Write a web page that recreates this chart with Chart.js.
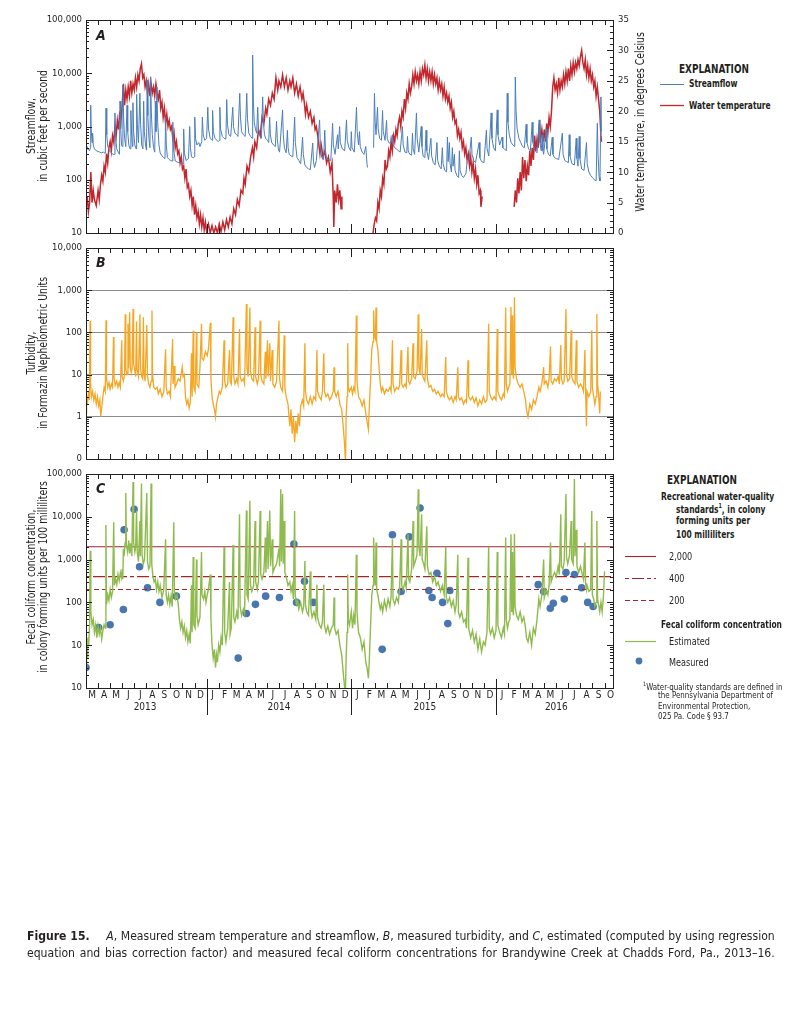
<!DOCTYPE html>
<html><head><meta charset="utf-8">
<script src="https://cdn.jsdelivr.net/npm/chart.js@4"></script>
<style>
body{margin:0;background:#fff;}
#wrap{position:relative;width:803px;height:1023px;overflow:hidden;background:#fff;font-family:"Liberation Sans Narrow","DejaVu Sans Condensed","Arial Narrow",sans-serif;color:#231f20;}
canvas{position:absolute;left:0;}
.t{position:absolute;white-space:nowrap;line-height:1;transform-origin:0 50%;}
.b{font-weight:bold;}
.sb{transform:scaleX(0.76);}
.sr{transform:scaleX(0.82);}
.sf{transform:scaleX(0.93);}
.rot{position:absolute;transform:rotate(-90deg) scaleX(0.9);transform-origin:50% 50%;text-align:center;white-space:nowrap;}
.cap{position:absolute;left:27px;width:804px;font-size:13px;line-height:1;text-align:justify;text-align-last:justify;white-space:nowrap;transform:scaleX(0.93);transform-origin:0 0;}
</style></head>
<body><div id="wrap">
<canvas id="cA" width="660" height="245" style="top:0px"></canvas>
<canvas id="cB" width="660" height="233" style="top:236px"></canvas>
<canvas id="cC" width="660" height="270" style="top:462px"></canvas>

<div class="t b" style="left:96px;top:28px;font-size:14px;font-style:italic;">A</div>
<div class="t b" style="left:96px;top:255px;font-size:14px;font-style:italic;">B</div>
<div class="t b" style="left:96px;top:481px;font-size:14px;font-style:italic;">C</div>

<div class="rot" style="left:-33px;top:114px;width:140px;height:24px;font-size:11.5px;line-height:12px;">Streamflow,<br>in cubic feet per second</div>
<div class="rot" style="left:-63px;top:341px;width:200px;height:24px;font-size:11.5px;line-height:12px;">Turbidity,<br>in Formazin Nephelometric Units</div>
<div class="rot" style="left:-83px;top:565px;width:240px;height:24px;font-size:11.5px;line-height:12px;">Fecal coliform concentration,<br>in colony forming units per 100 milliliters</div>
<div class="rot" style="left:540px;top:116px;width:200px;height:12px;font-size:11.5px;line-height:12px;">Water temperature, in degrees Celsius</div>

<div class="t b sb" style="left:679px;top:61.5px;font-size:13px;">EXPLANATION</div>
<div class="t b sb" style="left:689px;top:77.5px;font-size:11px;">Streamflow</div>
<div class="t b sb" style="left:689px;top:99.5px;font-size:11px;">Water temperature</div>

<div class="t b sb" style="left:667px;top:473px;font-size:13px;">EXPLANATION</div>
<div class="t b sb" style="left:661px;top:490.5px;font-size:11px;">Recreational water-quality</div>
<div class="t b sb" style="left:676px;top:503px;font-size:11px;">standards<sup style="font-size:7px;">1</sup>, in colony</div>
<div class="t b sb" style="left:676px;top:515px;font-size:11px;">forming units per</div>
<div class="t b sb" style="left:676px;top:528.5px;font-size:11px;">100 milliliters</div>
<div class="t sr" style="left:669px;top:550.5px;font-size:11px;">2,000</div>
<div class="t sr" style="left:669px;top:572.5px;font-size:11px;">400</div>
<div class="t sr" style="left:669px;top:594.5px;font-size:11px;">200</div>
<div class="t b sb" style="left:661px;top:618.5px;font-size:11px;">Fecal coliform concentration</div>
<div class="t sr" style="left:669px;top:635.5px;font-size:11px;">Estimated</div>
<div class="t sr" style="left:669px;top:656.5px;font-size:11px;">Measured</div>
<div class="t sf" style="left:643px;top:680.5px;font-size:8.5px;"><sup style="font-size:6px;">1</sup>Water-quality standards are defined in</div>
<div class="t sf" style="left:658px;top:691px;font-size:8.5px;">the Pennsylvania Department of</div>
<div class="t sf" style="left:658px;top:702px;font-size:8.5px;">Environmental Protection,</div>
<div class="t sf" style="left:658px;top:712px;font-size:8.5px;">025 Pa. Code § 93.7</div>

<svg style="position:absolute;left:0;top:0;" width="803" height="1023">
<line x1="660" y1="84.5" x2="684" y2="84.5" stroke="#4a7ebb" stroke-width="1"/>
<line x1="660" y1="105.5" x2="684" y2="105.5" stroke="#c1272d" stroke-width="1.3"/>
<line x1="625" y1="556.5" x2="656" y2="556.5" stroke="#a3262a" stroke-width="1.1"/>
<line x1="625" y1="578.5" x2="656" y2="578.5" stroke="#a3262a" stroke-width="1.1" stroke-dasharray="4 3 12 3"/>
<line x1="625" y1="600.5" x2="656" y2="600.5" stroke="#a3262a" stroke-width="1.1" stroke-dasharray="5 3"/>
<line x1="625" y1="641.5" x2="656" y2="641.5" stroke="#8fbb4e" stroke-width="1.2"/>
<circle cx="639" cy="661" r="3.4" fill="#4a76b0"/>
</svg>

<div class="cap" style="top:929px;"><b>Figure 15.</b><span style="display:inline-block;width:14px;"></span> <i>A</i>, Measured stream temperature and streamflow, <i>B</i>, measured turbidity, and <i>C</i>, estimated (computed by using regression</div>
<div class="cap" style="top:946px;">equation and bias correction factor) and measured fecal coliform concentrations for Brandywine Creek at Chadds Ford, Pa., 2013–16.</div>
</div>

<script>
// ---------------- DATA (x = months since 1 March 2013) ----------------
const monthLabels = ["M","A","M","J","J","A","S","O","N","D",
  "J","F","M","A","M","J","J","A","S","O","N","D",
  "J","F","M","A","M","J","J","A","S","O","N","D",
  "J","F","M","A","M","J","J","A","S","O"];
const yearLabels = ["2013","2014","2015","2016"];
const yearLabelPos = [4.9, 16.0, 28.1, 39.0];
const yearStarts = [10, 22, 34];

const flowTicks = [10,100,1000,10000,100000];
const flowTickLabels = ["10","100","1,000","10,000","100,000"];
const tempTicks = [0,5,10,15,20,25,30,35];
const turbTicks = [0.1,1,10,100,1000,10000];
const turbTickLabels = ["0","1","10","100","1,000","10,000"];
const fecalTicks = [1,10,100,1000,10000,100000];
const fecalTickLabels = ["10","10","100","1,000","10,000","100,000"];
const standards = [2000, 400, 200];

const streamflow = [
[0,360],[0.08,420],[0.15,380],[0.3,350],[0.36,400],[0.39,2500],[0.43,900],[0.5,500],[0.55,750],[0.6,450],[0.7,380],[0.85,350],[1.0,340],
[1.15,330],[1.3,320],[1.45,330],[1.6,310],[1.66,2200],[1.72,700],[1.8,420],[1.95,350],
[2.1,320],[2.25,300],[2.35,300],[2.4,1800],[2.46,600],[2.55,380],[2.7,320],[2.78,300],[2.82,3000],[2.88,900],[2.95,450],
[3.0,420],[3.06,6000],[3.12,1400],[3.2,600],[3.3,420],[3.4,2500],[3.46,800],[3.55,450],[3.65,380],[3.72,2000],[3.78,700],[3.85,420],[3.89,2800],[3.95,800],
[4.05,450],[4.15,380],[4.2,4000],[4.26,1100],[4.35,500],[4.47,4200],[4.53,1100],[4.62,450],[4.72,380],[4.78,3000],[4.84,800],[4.95,420],
[5.02,360],[5.07,7500],[5.13,1600],[5.22,600],[5.3,400],[5.36,8600],[5.42,1800],[5.5,700],[5.6,400],[5.7,330],[5.75,3000],[5.8,800],[5.88,5500],[5.94,1200],
[6.05,450],[6.15,320],[6.3,280],[6.45,260],[6.55,250],[6.6,1500],[6.66,450],[6.75,260],[6.9,240],[7.0,230],
[7.15,225],[7.2,1200],[7.26,380],[7.4,225],[7.55,215],[7.7,210],[7.85,205],[7.95,205],
[8.05,200],[8.1,900],[8.16,320],[8.3,230],[8.5,250],[8.6,1000],[8.66,400],[8.75,270],[8.9,260],
[9.0,270],[9.02,1500],[9.08,600],[9.2,450],[9.35,500],[9.45,420],[9.6,520],[9.65,1500],[9.72,700],[9.85,550],
[10.0,600],[10.1,2300],[10.16,900],[10.3,600],[10.45,550],[10.5,2000],[10.56,800],[10.7,600],[10.85,550],[10.95,520],
[11.05,550],[11.1,2300],[11.16,900],[11.3,650],[11.45,600],[11.6,580],[11.67,3200],[11.73,1100],[11.85,700],
[12.0,650],[12.17,2300],[12.23,1000],[12.35,750],[12.5,700],[12.6,650],[12.75,4200],[12.81,1500],[12.9,800],
[13.05,700],[13.2,650],[13.33,4200],[13.39,1400],[13.5,750],[13.65,650],[13.78,600],[13.82,22000],[13.88,3000],[13.95,1200],
[14.05,900],[14.15,750],[14.24,2300],[14.3,900],[14.45,650],[14.55,600],[14.65,3600],[14.71,1200],[14.8,700],[14.9,600],
[15.05,550],[15.15,500],[15.23,1500],[15.29,700],[15.4,500],[15.55,450],[15.7,420],[15.8,1250],[15.86,600],[15.95,380],
[16.05,330],[16.3,2050],[16.36,700],[16.45,400],[16.6,320],[16.7,850],[16.76,400],[16.85,300],[17.0,280],
[17.15,270],[17.3,1500],[17.36,500],[17.5,260],[17.65,230],[17.8,200],[17.96,630],[18.02,300],
[18.15,190],[18.3,170],[18.45,160],[18.6,155],[18.8,490],[18.86,220],[18.95,170],
[19.1,230],[19.37,1330],[19.43,450],[19.55,260],[19.7,240],[19.8,850],[19.86,350],[19.95,240],
[20.1,240],[20.3,230],[20.45,1150],[20.51,450],[20.65,300],[20.86,700],[20.92,380],
[21.03,1000],[21.09,500],[21.25,380],[21.45,350],[21.6,1330],[21.66,550],[21.8,400],[21.95,350],
[22.0,800],[22.06,400],[22.25,330],[22.43,2300],[22.49,800],[22.6,450],[22.68,800],[22.74,420],[22.9,330],
[23.05,300],[23.2,420],[23.3,200],[23.34,170],[23.45,null],[23.85,400],[23.92,4200],[23.98,1200],
[24.05,700],[24.17,2300],[24.23,900],[24.35,600],[24.5,550],[24.59,2000],[24.65,800],[24.8,550],[24.92,1300],[24.98,600],
[25.1,500],[25.25,480],[25.41,700],[25.47,450],[25.6,400],[25.75,380],[25.9,350],
[26.05,330],[26.24,1000],[26.3,450],[26.45,330],[26.6,320],[26.66,650],[26.72,350],[26.85,300],
[27.0,290],[27.07,750],[27.13,380],[27.25,300],[27.4,1800],[27.46,600],[27.6,330],[27.8,1000],[27.86,420],[27.95,280],
[28.1,260],[28.2,850],[28.26,350],[28.4,240],[28.6,600],[28.66,280],[28.8,210],[28.95,190],
[29.1,500],[29.16,230],[29.3,180],[29.45,160],[29.55,400],[29.61,200],[29.75,150],[29.9,140],[29.97,630],[30.03,220],
[30.13,500],[30.19,200],[30.3,140],[30.38,400],[30.44,180],[30.55,300],[30.6,150],[30.75,120],[30.9,110],[30.96,350],[31.02,150],
[31.15,120],[31.3,110],[31.5,130],[31.6,210],[31.75,220],[31.95,630],[32.01,300],
[32.15,230],[32.3,210],[32.6,500],[32.66,260],[32.8,220],[33.0,210],
[33.2,850],[33.26,380],[33.4,280],[33.6,1800],[33.66,600],[33.8,400],[33.95,350],
[34.1,2050],[34.16,700],[34.3,450],[34.5,630],[34.56,400],[34.7,380],[34.85,350],[34.93,4200],[34.99,1200],
[35.1,700],[35.25,500],[35.4,450],[35.55,420],[35.6,8500],[35.66,2000],[35.75,900],[35.9,600],
[36.05,500],[36.2,420],[36.35,400],[36.5,1100],[36.56,500],[36.7,380],[36.85,350],[37.0,1200],[37.06,500],
[37.2,360],[37.4,320],[37.58,1330],[37.64,500],[37.75,350],[37.83,700],[37.89,350],[37.95,300],
[38.16,900],[38.22,380],[38.35,300],[38.5,280],[38.66,630],[38.72,300],[38.85,260],
[39.0,250],[39.2,240],[39.5,750],[39.56,300],[39.7,230],[39.85,220],[40.0,210],
[40.07,700],[40.13,280],[40.3,200],[40.5,190],[40.65,600],[40.71,250],[40.8,180],[40.9,650],[40.96,250],
[41.1,160],[41.3,150],[41.5,500],[41.56,200],[41.7,140],[41.85,120],[42.0,110],
[42.15,100],[42.3,95],[42.4,1150],[42.46,300],[42.55,110],[42.62,95],[42.7,3600],[42.74,800]
];

const waterTemp = [
[0,4],[0.1,6],[0.2,3.5],[0.3,5],[0.4,10],[0.5,5],[0.6,7],[0.7,5.5],[0.85,4.5],[1.0,7],[1.1,5.5],[1.2,8],[1.3,9.5],[1.4,8.5],[1.5,11],[1.6,10],[1.7,13],[1.8,11.5],[1.9,14],
[2.0,15],[2.1,13.5],[2.2,16],[2.3,15],[2.4,17.5],[2.5,16],[2.6,18.5],[2.7,17],[2.8,20],[2.9,18.5],[3.0,21],[3.1,24.5],[3.2,21],[3.3,23.5],[3.4,22],[3.5,24],[3.6,22.5],[3.7,25],[3.8,23],[3.9,24.5],
[4.0,23.5],[4.1,25.5],[4.2,24],[4.3,26],[4.4,25],[4.5,27],[4.6,27.8],[4.7,25.5],[4.8,26],[4.9,24],[5.0,25],[5.1,23],[5.2,24.5],[5.3,22.5],[5.4,24.5],[5.5,23],[5.6,24],[5.7,22.5],[5.8,24.5],[5.9,23],
[6.0,22],[6.1,23.5],[6.2,20.5],[6.3,21.5],[6.4,19],[6.5,20.5],[6.6,18],[6.7,19.5],[6.8,17.5],[6.9,18.5],[7.0,17],[7.1,17.5],[7.2,15.5],[7.3,16.5],[7.4,14],[7.5,15],[7.6,13],[7.7,13.5],[7.8,11.5],[7.9,12.5],
[8.0,10.5],[8.1,11],[8.2,9],[8.3,10.5],[8.4,7.5],[8.5,8],[8.6,6],[8.7,7],[8.8,4.5],[8.9,6],[9.0,3],[9.1,4.5],[9.2,2.5],[9.3,3.5],[9.4,1.5],[9.5,3],[9.6,1],[9.7,2.5],[9.8,0.5],[9.9,1.8],
[10.0,0.3],[10.15,1.5],[10.3,0],[10.45,1.2],[10.6,0],[10.75,1],[10.9,0],[11.05,1.5],[11.2,0.2],[11.35,1.8],[11.5,0.5],[11.65,2.2],[11.8,1],[11.95,2.6],
[12.1,1.5],[12.25,4],[12.4,3],[12.55,5.5],[12.7,4.5],[12.85,7],[13.0,6.5],[13.1,9],[13.2,8],[13.35,11],[13.5,10],[13.65,12.5],[13.8,14],[13.9,12.5],
[14.0,15],[14.15,14],[14.3,17],[14.45,16],[14.6,19],[14.75,18],[14.9,20.5],[15.0,19.5],[15.15,22],[15.3,21],[15.45,23],[15.6,22],[15.75,25.5],[15.9,23.5],
[16.0,25],[16.15,24],[16.3,26],[16.45,24],[16.6,25.5],[16.75,23.5],[16.9,25],[17.0,24],[17.15,25.5],[17.3,23],[17.45,24.5],[17.6,22.5],[17.75,24],[17.9,22],
[18.0,23],[18.1,21.5],[18.2,19.5],[18.3,21],[18.45,19],[18.6,20],[18.75,18],[18.9,19],[19.0,17],[19.1,17.5],[19.25,15.5],[19.4,13],[19.5,14.5],[19.65,12.5],[19.8,13.5],[19.95,11.5],
[20.1,12.5],[20.25,10],[20.4,11.5],[20.5,6],[20.55,1],[20.62,7],[20.75,5],[20.85,8],[20.95,5.5],[21.05,7],[21.15,4],[21.22,6],[21.3,null],
[23.8,0],[23.9,1.5],[24.0,2.5],[24.1,2],[24.2,5],[24.3,4],[24.4,7],[24.5,6],[24.6,9],[24.7,8],[24.8,12],[24.9,10.5],[25.0,11],[25.1,13.5],[25.2,12.5],[25.3,15],[25.4,13.5],[25.5,16],[25.6,15],[25.7,17],[25.8,16],[25.9,18],
[26.0,19],[26.1,17.5],[26.2,20],[26.3,19],[26.4,22],[26.5,20.5],[26.6,23],[26.7,22],[26.8,24.5],[26.9,23],[27.0,24],[27.1,26],[27.2,24.5],[27.3,26.5],[27.4,25],[27.5,26],[27.6,24.5],[27.7,26.5],[27.8,25],[27.9,27],
[28.0,26],[28.1,27.6],[28.2,25.5],[28.3,27],[28.4,25],[28.5,26.5],[28.6,25],[28.7,26.5],[28.8,24.5],[28.9,26],[29.0,24.5],[29.1,25.5],[29.2,23.5],[29.3,25],[29.4,23.5],[29.5,24.5],[29.6,22.5],[29.7,24],[29.8,22],[29.9,23],
[30.0,21.5],[30.1,22.5],[30.2,20.5],[30.3,21.5],[30.4,19],[30.5,20],[30.6,18],[30.7,18.5],[30.8,16],[30.9,17],[31.0,15.5],[31.1,16.5],[31.2,14],[31.3,15],[31.4,13],[31.5,14],[31.6,12],[31.7,13],[31.8,11],[31.9,12.5],
[32.0,10],[32.1,11.5],[32.2,9],[32.3,10.5],[32.4,8],[32.5,9.5],[32.6,6.5],[32.7,7],[32.75,4.3],[32.85,6],[32.9,null],
[35.5,4.3],[35.6,7],[35.7,5],[35.8,9],[35.9,6.5],[36.0,10],[36.1,7],[36.2,12.5],[36.3,9],[36.4,12],[36.5,8.5],[36.6,11],[36.7,9.5],[36.8,13.5],[36.9,11],
[37.0,14],[37.1,12],[37.2,16],[37.3,13.5],[37.4,15.5],[37.5,14],[37.6,18],[37.7,15.5],[37.8,17],[37.9,15],[38.0,17],[38.1,15],[38.2,18],[38.3,16.5],[38.4,19],[38.5,17.5],[38.6,20],[38.7,24],[38.8,25.5],[38.9,23.5],
[39.0,24.5],[39.1,23],[39.2,25.5],[39.3,23.5],[39.4,25],[39.5,24],[39.6,26],[39.7,24.5],[39.8,26.5],[39.9,25],[40.0,27],[40.1,25],[40.2,27.5],[40.3,26],[40.4,28],[40.5,26.5],[40.6,28],[40.7,27],[40.8,28.5],[40.9,27.5],
[41.0,29],[41.1,30],[41.2,28],[41.3,27],[41.4,28.5],[41.5,26],[41.6,27.5],[41.7,25.5],[41.8,27],[41.9,25],[42.0,26],[42.1,24],[42.2,25],[42.3,22.5],[42.4,24],[42.5,22],[42.6,20],[42.7,16],[42.75,15]
];

const turbidity = [
[0.0,1.2],[0.05,3],[0.12,2],[0.2,4],[0.28,2.5],[0.34,190],[0.38,6],[0.45,3],[0.55,4],[0.65,2.5],[0.75,3.5],[0.85,2],[0.95,3],[1.05,1.8],[1.15,2.5],[1.22,1],[1.3,1.6],[1.4,3],[1.5,5],[1.6,4],[1.66,195],[1.7,8],[1.8,5],[1.9,6.5],
[2.0,4.5],[2.1,6],[2.2,5],[2.28,78],[2.32,9],[2.42,5.5],[2.55,7],[2.65,5],[2.75,6.5],[2.85,5],[2.96,65],[3.0,9],[3.1,7],[3.2,10],[3.25,270],[3.3,14],[3.4,10],[3.48,160],[3.53,14],[3.62,300],[3.67,16],[3.75,11],[3.82,14],[3.9,360],[3.95,18],
[4.05,12],[4.12,9],[4.19,180],[4.24,13],[4.35,9],[4.47,270],[4.52,14],[4.62,9],[4.7,8],[4.76,230],[4.81,11],[4.9,7],[5.04,150],[5.1,9],[5.2,6],[5.3,5],[5.4,7],[5.47,330],[5.52,10],[5.62,5],[5.75,4.5],[5.9,5],
[6.0,3.5],[6.15,4.5],[6.3,3],[6.45,4],[6.6,40],[6.65,5],[6.75,3.5],[6.9,4],[7.0,3],[7.18,70],[7.22,6],[7.32,16],[7.38,5],[7.5,6],[7.65,8],[7.8,7],[7.98,15],[8.05,9],[8.15,10],[8.25,3],[8.35,2],[8.45,2.5],[8.55,1.6],[8.65,2.2],[8.75,32],[8.8,3],[8.89,110],[8.94,5],
[9.05,4],[9.16,100],[9.2,6],[9.35,5],[9.45,15],[9.58,160],[9.62,25],[9.75,22],[9.9,35],[10.05,28],[10.15,40],[10.31,170],[10.36,8],[10.45,3],[10.55,2],[10.65,1.5],[10.74,1],[10.82,2],[10.95,3],
[11.05,4],[11.15,3.5],[11.3,5],[11.45,65],[11.5,7],[11.6,5],[11.75,6],[11.9,38],[11.95,7],[12.05,6],[12.2,230],[12.25,9],[12.35,6],[12.5,8],[12.6,6],[12.73,120],[12.78,9],[12.9,7],
[13.05,8],[13.15,6],[13.3,470],[13.35,14],[13.45,9],[13.59,390],[13.64,12],[13.75,8],[13.9,7],[14.02,133],[14.07,9],[14.2,6],[14.3,8],[14.44,190],[14.49,10],[14.6,7],[14.75,6],[14.87,35],[14.92,8],
[15.05,65],[15.1,9],[15.24,55],[15.3,7],[15.44,38],[15.5,6],[15.65,5],[15.8,7],[16.0,190],[16.05,8],[16.15,5],[16.3,4],[16.44,85],[16.49,5],[16.6,3],[16.75,2],[16.9,0.6],
[17.0,1.5],[17.1,0.4],[17.2,1],[17.3,0.25],[17.4,0.8],[17.5,0.4],[17.6,1.2],[17.7,0.6],[17.8,1.8],[17.95,2.5],[18.05,1.8],[18.15,55],[18.2,4],[18.3,2.5],[18.45,2],[18.6,3],[18.75,2],[18.9,3],
[19.05,2.5],[19.15,38],[19.2,4],[19.35,3],[19.5,2.5],[19.6,4],[19.72,32],[19.77,4],[19.9,3],[20.05,3.5],[20.2,2.5],[20.35,3],[20.5,4],[20.57,15],[20.62,4],[20.75,3],[20.9,4],
[21.05,2],[21.2,1.5],[21.35,0.5],[21.45,0.2],[21.52,0.08],[21.57,1],[21.65,3],[21.7,55],[21.75,5],[21.85,4],[22.0,5],[22.1,3.5],[22.2,5],[22.3,4],[22.42,250],[22.47,7],[22.6,3],[22.75,2.5],[22.9,1.8],
[23.05,2.5],[23.2,1.2],[23.3,0.8],[23.42,0.5],[23.5,2],[23.6,8],[23.7,40],[23.8,60],[23.85,330],[23.92,80],[24.0,70],[24.05,390],[24.1,60],[24.2,40],[24.3,15],[24.4,6],[24.5,4],[24.6,5],[24.75,3.5],[24.9,4.5],
[25.05,4],[25.2,5],[25.3,4],[25.41,65],[25.46,6],[25.6,4],[25.75,5],[25.9,4.5],[26.0,5.5],[26.13,38],[26.18,6],[26.3,5],[26.45,6],[26.55,5],[26.7,45],[26.75,7],[26.85,6],
[27.0,8],[27.12,55],[27.17,9],[27.3,8],[27.45,12],[27.55,270],[27.6,15],[27.7,10],[27.83,120],[27.88,10],[28.0,8],[28.1,7],[28.26,65],[28.31,8],[28.45,5],[28.6,5.5],[28.75,4],[28.9,4.5],
[29.05,3.5],[29.2,4],[29.4,3],[29.55,3.5],[29.7,3],[29.83,26],[29.88,4],[30.0,3],[30.15,2.5],[30.3,3],[30.45,2.2],[30.6,3],[30.7,2.5],[30.83,15],[30.88,3],
[31.0,2.5],[31.15,2.8],[31.3,2],[31.45,2.5],[31.55,2.2],[31.68,22],[31.73,3],[31.9,2.5],[32.05,3],[32.2,2.2],[32.35,2.8],[32.5,1.8],[32.65,2.5],[32.8,2],[32.95,3],
[33.1,2.2],[33.25,2.5],[33.39,160],[33.44,4],[33.55,3],[33.7,2.5],[33.85,3],[34.0,2.5],[34.1,120],[34.15,4],[34.3,3],[34.45,2.5],[34.6,3.5],[34.7,3],[34.8,390],[34.85,6],[34.95,4],
[35.05,5],[35.15,6],[35.24,400],[35.3,10],[35.33,250],[35.38,12],[35.45,8],[35.53,680],[35.58,15],[35.7,8],[35.85,6],[36.0,5],[36.15,6],[36.3,4],[36.45,2.5],[36.52,1.5],[36.65,1],[36.8,2],[36.95,1.5],
[37.1,2.5],[37.25,2],[37.4,3],[37.55,5],[37.65,4],[37.8,6],[37.95,15],[38.0,6],[38.15,7],[38.3,5],[38.4,8],[38.52,46],[38.57,7],[38.7,6],[38.85,8],
[39.0,7],[39.15,9],[39.25,6],[39.37,50],[39.42,8],[39.55,6],[39.65,7],[39.8,360],[39.85,10],[39.95,7],[40.1,8],[40.23,112],[40.28,9],[40.4,7],[40.55,6],[40.66,65],[40.71,7],[40.85,5],
[41.0,6],[41.15,5],[41.25,4],[41.37,38],[41.42,5],[41.5,0.6],[41.55,4],[41.7,3],[41.85,4],[41.94,112],[41.99,5],[42.1,3],[42.2,2],[42.3,3],[42.36,273],[42.42,6],[42.5,3.5],[42.6,1.2],[42.65,4]
];

const fecalEstimated = [
[0.0,3],[0.05,8],[0.1,5],[0.15,15],[0.22,10],[0.3,30],[0.35,1600],[0.4,60],[0.5,30],[0.6,40],[0.7,20],[0.8,30],[0.9,15],[1.0,28],[1.1,18],[1.2,25],[1.3,14],[1.4,22],[1.5,30],[1.6,25],[1.65,6400],[1.7,90],[1.8,150],[1.9,110],
[2.0,200],[2.1,130],[2.2,180],[2.3,7500],[2.35,250],[2.45,350],[2.55,260],[2.65,450],[2.75,320],[2.85,500],[2.95,380],[3.0,600],[3.05,350],[3.1,1800],[3.15,1200],[3.25,2500],[3.3,36000],[3.35,2200],[3.45,1500],[3.55,2800],[3.62,1400],[3.7,2400],[3.8,1200],[3.9,65000],[3.95,2500],
[4.05,1500],[4.12,2000],[4.19,14000],[4.25,1500],[4.35,900],[4.47,8000],[4.5,1200],[4.6,60000],[4.65,1300],[4.75,800],[4.85,1000],[5.04,36000],[5.1,900],[5.2,600],[5.3,700],[5.4,60000],[5.45,800],[5.55,400],[5.65,300],[5.75,350],[5.85,200],[5.95,300],
[6.05,180],[6.15,250],[6.3,130],[6.45,200],[6.6,3000],[6.65,150],[6.75,100],[6.85,150],[6.95,90],[7.05,140],[7.15,80],[7.28,7500],[7.33,180],[7.42,120],[7.55,150],[7.65,90],[7.75,40],[7.85,25],[7.95,35],
[8.05,20],[8.15,28],[8.25,15],[8.35,22],[8.45,12],[8.55,18],[8.65,11],[8.75,250],[8.8,20],[8.89,1150],[8.94,30],[9.05,25],[9.16,1000],[9.2,50],[9.3,30],[9.45,45],[9.58,1500],[9.62,150],[9.75,120],[9.85,180],[9.95,100],
[10.05,150],[10.15,200],[10.31,450],[10.36,40],[10.45,10],[10.55,5],[10.65,8],[10.74,3],[10.82,6],[10.9,4],[11.0,10],[11.1,7],[11.2,15],[11.3,10],[11.45,2000],[11.5,20],[11.6,12],[11.75,25],[11.9,300],[11.95,18],
[12.05,25],[12.2,2200],[12.25,45],[12.35,35],[12.5,60],[12.6,40],[12.73,11500],[12.78,80],[12.9,50],[13.05,70],[13.15,55],[13.3,14000],[13.35,150],[13.45,120],[13.59,23600],[13.64,250],[13.75,180],[13.9,250],
[14.02,8000],[14.07,300],[14.2,200],[14.3,320],[14.44,13700],[14.49,450],[14.6,350],[14.75,500],[14.87,3300],[14.92,500],[15.05,8000],[15.1,600],[15.24,14000],[15.3,700],[15.44,3000],[15.5,500],[15.65,650],[15.8,800],
[16.0,1800],[16.05,700],[16.15,44000],[16.2,900],[16.3,34000],[16.35,800],[16.44,8000],[16.49,500],[16.6,400],[16.75,250],[16.9,300],[17.0,180],[17.1,250],[17.2,120],[17.3,13700],[17.35,150],[17.45,90],[17.55,110],[17.65,70],[17.8,100],[17.95,60],
[18.05,80],[18.15,930],[18.2,90],[18.3,60],[18.45,50],[18.6,530],[18.65,70],[18.75,45],[18.9,60],[19.05,40],[19.15,260],[19.2,45],[19.35,30],[19.5,25],[19.6,35],[19.72,260],[19.77,30],[19.9,20],
[20.05,28],[20.2,18],[20.35,25],[20.5,30],[20.57,130],[20.62,25],[20.75,18],[20.9,22],[21.05,10],[21.2,6],[21.35,2],[21.45,1],[21.52,1],[21.57,5],[21.65,20],[21.7,450],[21.75,40],[21.85,30],
[22.0,60],[22.1,25],[22.2,50],[22.3,30],[22.42,1300],[22.47,60],[22.6,20],[22.75,15],[22.9,8],[23.05,12],[23.2,4],[23.3,3],[23.42,1.7],[23.5,5],[23.6,30],[23.7,150],[23.8,250],[23.85,3300],[23.92,350],
[24.0,250],[24.05,2500],[24.1,200],[24.2,150],[24.3,100],[24.4,70],[24.5,90],[24.6,60],[24.75,110],[24.9,70],[25.05,120],[25.2,80],[25.3,140],[25.41,3000],[25.46,120],[25.6,90],[25.75,130],[25.9,100],
[26.0,200],[26.13,3000],[26.18,250],[26.3,200],[26.45,300],[26.55,220],[26.7,3900],[26.75,350],[26.85,300],[27.0,600],[27.12,8000],[27.17,700],[27.3,900],[27.45,1300],[27.55,44000],[27.6,2000],[27.7,1200],[27.83,11500],[27.88,1000],
[28.0,800],[28.1,600],[28.26,6000],[28.31,700],[28.45,450],[28.6,500],[28.75,300],[28.9,400],[29.05,250],[29.2,300],[29.4,180],[29.55,250],[29.7,150],[29.83,2000],[29.88,130],
[30.0,100],[30.15,130],[30.3,80],[30.45,110],[30.6,60],[30.7,90],[30.83,1300],[30.88,60],[31.0,45],[31.15,60],[31.3,35],[31.45,40],[31.55,25],[31.68,1100],[31.73,25],[31.9,15],
[32.05,22],[32.2,12],[32.35,18],[32.5,8],[32.65,14],[32.8,7],[32.95,12],[33.1,10],[33.25,20],[33.39,2000],[33.44,25],[33.55,18],[33.7,25],[33.85,15],
[34.0,22],[34.1,1500],[34.15,30],[34.3,20],[34.45,15],[34.6,25],[34.7,18],[34.8,3300],[34.85,40],[34.95,25],[35.05,35],[35.15,40],[35.24,3900],[35.3,60],[35.33,1500],[35.38,70],[35.45,50],[35.53,4000],[35.58,80],[35.7,50],[35.85,40],
[36.0,60],[36.15,35],[36.3,45],[36.45,25],[36.52,15],[36.65,12],[36.8,20],[36.95,10],[37.1,25],[37.25,18],[37.4,40],[37.55,120],[37.65,80],[37.8,150],[37.95,1000],
[38.0,130],[38.15,200],[38.3,150],[38.4,250],[38.52,2500],[38.57,300],[38.7,400],[38.85,500],[39.0,400],[39.15,700],[39.25,450],[39.37,11500],[39.42,700],[39.55,600],[39.65,900],[39.8,34000],[39.85,1100],[39.95,800],
[40.1,1300],[40.23,8000],[40.28,1000],[40.4,800],[40.5,76000],[40.55,1200],[40.66,5000],[40.71,700],[40.85,500],[41.0,700],[41.15,450],[41.25,350],[41.37,2500],[41.42,300],[41.5,200],[41.55,250],[41.7,180],[41.85,200],
[41.94,13700],[41.99,150],[42.1,120],[42.2,80],[42.3,100],[42.36,8000],[42.42,120],[42.5,90],[42.6,60],[42.7,100],[42.8,60],[42.9,130],[43.0,530]
];

const fecalMeasured = [
[0.0,3],[1.05,26],[2.0,30],[3.1,68],[3.16,5000],[3.99,15000],[4.44,680],[5.1,220],[6.13,100],[7.49,140],
[12.62,5],[13.3,55],[14.05,90],[14.9,140],[16.04,130],[17.24,2300],[17.46,100],[18.12,310],[18.86,100],
[24.56,8],[25.41,3800],[26.13,180],[26.8,3400],[27.7,16000],[28.43,190],[28.7,130],[29.1,480],[29.57,100],[30.0,32],[30.17,190],
[37.5,260],[37.95,180],[38.5,73],[38.75,95],[39.66,120],[39.8,500],[40.5,450],[41.1,220],[41.6,100],[42.05,80]
];

// ---------------- STYLE / RENDER ----------------
const X_MAX = 43.7;
const FONT = '"Liberation Sans Narrow","DejaVu Sans Condensed","Arial Narrow",sans-serif';
const INK = '#231f20';
Chart.defaults.font.family = FONT;
Chart.defaults.color = INK;
Chart.defaults.animation = false;
Chart.defaults.events = [];

const toXY = a => a.map(([x, y]) => ({x, y}));
const logMinor = (lo, hi) => { const r = []; for (let d = lo; d < hi; d *= 10) for (let k = 2; k <= 9; k++) r.push(d * k); return r; };
const range = (a, b, s) => { const r = []; for (let v = a; v <= b + 1e-9; v += s) r.push(v); return r; };

const frameTicks = {
  id: 'frameTicks',
  afterDatasetsDraw(chart, args, o) {
    const {ctx, chartArea: a, scales} = chart;
    const xs = scales.x;
    ctx.save();
    ctx.strokeStyle = INK;
    ctx.lineWidth = 1;
    ctx.beginPath();
    for (let m = 1; m < X_MAX; m++) {
      const px = Math.round(xs.getPixelForValue(m)) + 0.5;
      const yr = yearStarts.includes(m);
      const len = yr ? 9 : 5;
      ctx.moveTo(px, a.top); ctx.lineTo(px, a.top + len);
      ctx.moveTo(px, a.bottom); ctx.lineTo(px, a.bottom - len);
      if (o.dividers && yr) { ctx.moveTo(px, a.bottom); ctx.lineTo(px, a.bottom + 27); }
    }
    (o.y || []).forEach(sp => {
      const s = scales[sp.scale];
      const draw = (v, len) => {
        const py = Math.round(s.getPixelForValue(v)) + 0.5;
        if (py < a.top + 1 || py > a.bottom - 1) return;
        if (sp.sides.includes('l')) { ctx.moveTo(a.left, py); ctx.lineTo(a.left + len, py); }
        if (sp.sides.includes('r')) { ctx.moveTo(a.right, py); ctx.lineTo(a.right - len, py); }
      };
      sp.major.forEach(v => draw(v, 6));
      sp.minor.forEach(v => draw(v, 3));
    });
    ctx.stroke();
    ctx.strokeRect(Math.round(a.left) + 0.5, Math.round(a.top) + 0.5, Math.round(a.right - a.left), Math.round(a.bottom - a.top));
    ctx.restore();
  }
};

const tickFont = {size: 9.5};
const hiddenX = h => ({type: 'linear', min: 0, max: X_MAX, ticks: {display: false}, grid: {display: false, drawTicks: false}, border: {display: false}, afterFit: s => { s.height = h; }});
const lineDs = (data, color, axis, w) => ({data: toXY(data), yAxisID: axis, borderColor: color, borderWidth: w, pointRadius: 0, tension: 0, spanGaps: false, fill: false});

// Panel A
new Chart(document.getElementById('cA'), {
  type: 'line',
  data: {datasets: [
    lineDs(streamflow, '#4a7ebb', 'y', 1),
    lineDs(waterTemp, '#c1272d', 'yT', 1.5)
  ]},
  options: {
    responsive: false, layout: {padding: {top: 20, left: 0, right: 0, bottom: 0}},
    plugins: {legend: {display: false}, tooltip: {enabled: false},
      frameTicks: {y: [
        {scale: 'y', sides: 'l', major: flowTicks, minor: logMinor(10, 100000)},
        {scale: 'yT', sides: 'r', major: tempTicks, minor: range(0, 35, 1)}
      ]}},
    scales: {
      x: hiddenX(12),
      y: {type: 'logarithmic', position: 'left', min: 10, max: 100000,
        afterBuildTicks: s => { s.ticks = flowTicks.map(v => ({value: v})); },
        ticks: {callback: (v, i) => flowTickLabels[i], font: tickFont, padding: 4, autoSkip: false},
        grid: {display: false, drawTicks: false}, border: {display: false}, afterFit: s => { s.width = 86; }},
      yT: {type: 'linear', position: 'right', min: 0, max: 35,
        afterBuildTicks: s => { s.ticks = tempTicks.map(v => ({value: v})); },
        ticks: {callback: v => String(v), font: tickFont, padding: 5, autoSkip: false},
        grid: {display: false, drawTicks: false}, border: {display: false}, afterFit: s => { s.width = 47; }}
    }
  },
  plugins: [frameTicks]
});

// Panel B
new Chart(document.getElementById('cB'), {
  type: 'line',
  data: {datasets: [lineDs(turbidity, '#f5a623', 'y', 1.3)]},
  options: {
    responsive: false, layout: {padding: {top: 12, left: 0, right: 47, bottom: 0}},
    plugins: {legend: {display: false}, tooltip: {enabled: false},
      frameTicks: {y: [{scale: 'y', sides: 'lr', major: turbTicks, minor: logMinor(0.1, 10000)}]}},
    scales: {
      x: hiddenX(10),
      y: {type: 'logarithmic', position: 'left', min: 0.1, max: 10000,
        afterBuildTicks: s => { s.ticks = turbTicks.map(v => ({value: v})); },
        ticks: {callback: (v, i) => turbTickLabels[i], font: tickFont, padding: 4, autoSkip: false},
        grid: {drawTicks: false, lineWidth: 1, color: c => (c.tick && [1, 10, 100, 1000].includes(c.tick.value)) ? '#8c8c8c' : 'rgba(0,0,0,0)'},
        border: {display: false}, afterFit: s => { s.width = 86; }}
    }
  },
  plugins: [frameTicks]
});

// Panel C
const stdLine = (v, dash) => ({data: [{x: 0, y: v}, {x: X_MAX, y: v}], yAxisID: 'y', borderColor: '#a3262a', borderWidth: 1.1, borderDash: dash, pointRadius: 0, tension: 0, fill: false});
new Chart(document.getElementById('cC'), {
  type: 'line',
  data: {datasets: [
    lineDs(fecalEstimated, '#8fbb4e', 'y', 1.4),
    stdLine(standards[0], []),
    stdLine(standards[1], [4, 3, 12, 3]),
    stdLine(standards[2], [5, 3]),
    {data: toXY(fecalMeasured), yAxisID: 'y', showLine: false, pointRadius: 3.8, pointBackgroundColor: '#4a76b0', pointBorderWidth: 0, borderColor: '#4a76b0'}
  ]},
  options: {
    responsive: false, layout: {padding: {top: 12, left: 0, right: 47, bottom: 17}},
    plugins: {legend: {display: false}, tooltip: {enabled: false},
      frameTicks: {dividers: true, y: [{scale: 'y', sides: 'lr', major: fecalTicks, minor: logMinor(1, 100000)}]}},
    scales: {
      x: {type: 'linear', position: 'bottom', min: 0, max: X_MAX, weight: 0,
        afterBuildTicks: s => { s.ticks = monthLabels.map((_, i) => ({value: i + 0.5})); },
        ticks: {callback: (v, i) => monthLabels[i], font: {size: 10}, padding: 1, autoSkip: false, maxRotation: 0, minRotation: 0},
        grid: {display: false, drawTicks: false}, border: {display: false}, afterFit: s => { s.height = 13; }},
      xYear: {type: 'linear', position: 'bottom', min: 0, max: X_MAX, weight: 1,
        afterBuildTicks: s => { s.ticks = yearLabelPos.map(v => ({value: v})); },
        ticks: {callback: (v, i) => yearLabels[i], font: {size: 10}, padding: 0, autoSkip: false, maxRotation: 0, minRotation: 0},
        grid: {display: false, drawTicks: false}, border: {display: false}, afterFit: s => { s.height = 14; }},
      y: {type: 'logarithmic', position: 'left', min: 1, max: 100000,
        afterBuildTicks: s => { s.ticks = fecalTicks.map(v => ({value: v})); },
        ticks: {callback: (v, i) => fecalTickLabels[i], font: tickFont, padding: 4, autoSkip: false},
        grid: {display: false, drawTicks: false}, border: {display: false}, afterFit: s => { s.width = 86; }}
    }
  },
  plugins: [frameTicks]
});
</script>
</body></html>
